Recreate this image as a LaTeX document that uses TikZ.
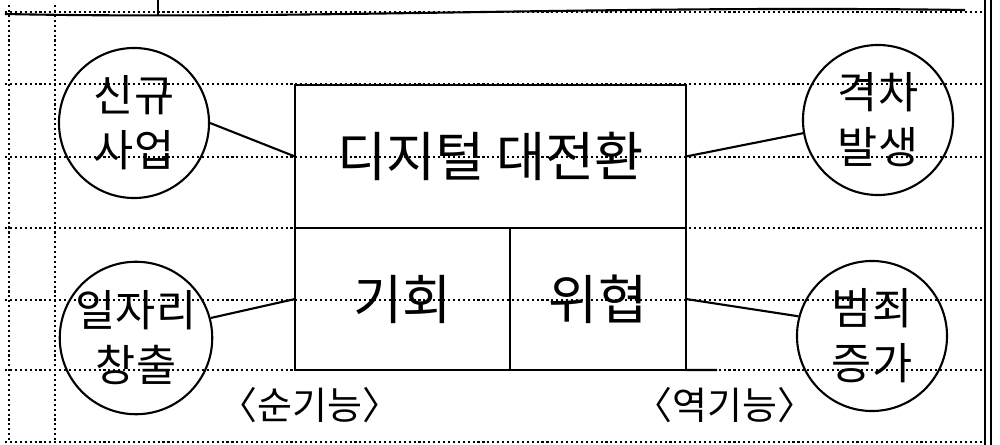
\documentclass[tikz,border=0pt]{standalone}
\usepackage{fontspec}
\newfontfamily\kr{Noto Sans CJK KR}
\usetikzlibrary{positioning}
\tikzset{
pen/.style={line width=1.5pt},
ruled/.style={line width=1.7pt,dash pattern=on 1.5pt off 2pt},
cell/.style={draw,pen,inner sep=0pt,outer sep=0pt,font=\kr\fontsize{38}{42}\selectfont},
bubble/.style={draw,pen,circle,minimum size=3.75cm,inner sep=0pt,align=center,font=\kr\fontsize{31}{39}\selectfont},
tag/.style={font=\kr\fontsize{27}{30}\selectfont}
}
\begin{document}
\begin{tikzpicture}[x=0.025cm,y=-0.025cm]
\useasboundingbox (0,0) rectangle (1000,445);
\foreach \yy in {12,84,157,228,300,370,442}
  \draw[ruled] (5,\yy) -- (985,\yy);
\foreach \xx in {9,55}
  \draw[ruled] (\xx,5) -- (\xx,442);
\draw[pen] (5,14) .. controls (300,20) and (600,5) .. (965,10);
\draw[pen] (158,0) -- (158,15);
\draw[line width=1.5pt] (985,0) -- (985,445);
\draw[line width=2pt] (991,0) -- (991,445);

\node[cell,minimum width=9.775cm,minimum height=3.575cm] (dx) at (490.5,156.5) {디지털 대전환};
\node[cell,anchor=north west,minimum width=5.375cm,minimum height=3.55cm] (opp) at (dx.south west) {기회};
\node[cell,anchor=north west,minimum width=4.4cm,minimum height=3.55cm] (thr) at (opp.north east) {위협};
\coordinate (ext) at (717,370);
\draw[pen] (thr.south east) -- (ext);

\node[bubble] (nb) at (134,123) {신규\\사업};
\node[bubble] (gap) at (878,120) {격차\\발생};
\node[bubble] (job) at (136,338) {일자리\\창출};
\node[bubble] (crime) at (872,336) {범죄\\증가};
\draw[pen] (nb.east) -- (dx.west);
\draw[pen] (dx.east) -- (gap.190);
\draw[pen] (job.15) -- (opp.west);
\draw[pen] (thr.east) -- (crime.165);

\node[tag] (pos) at (310,405) {〈순기능〉};
\node[tag] (neg) at (725,405) {〈역기능〉};
\end{tikzpicture}
\end{document}
